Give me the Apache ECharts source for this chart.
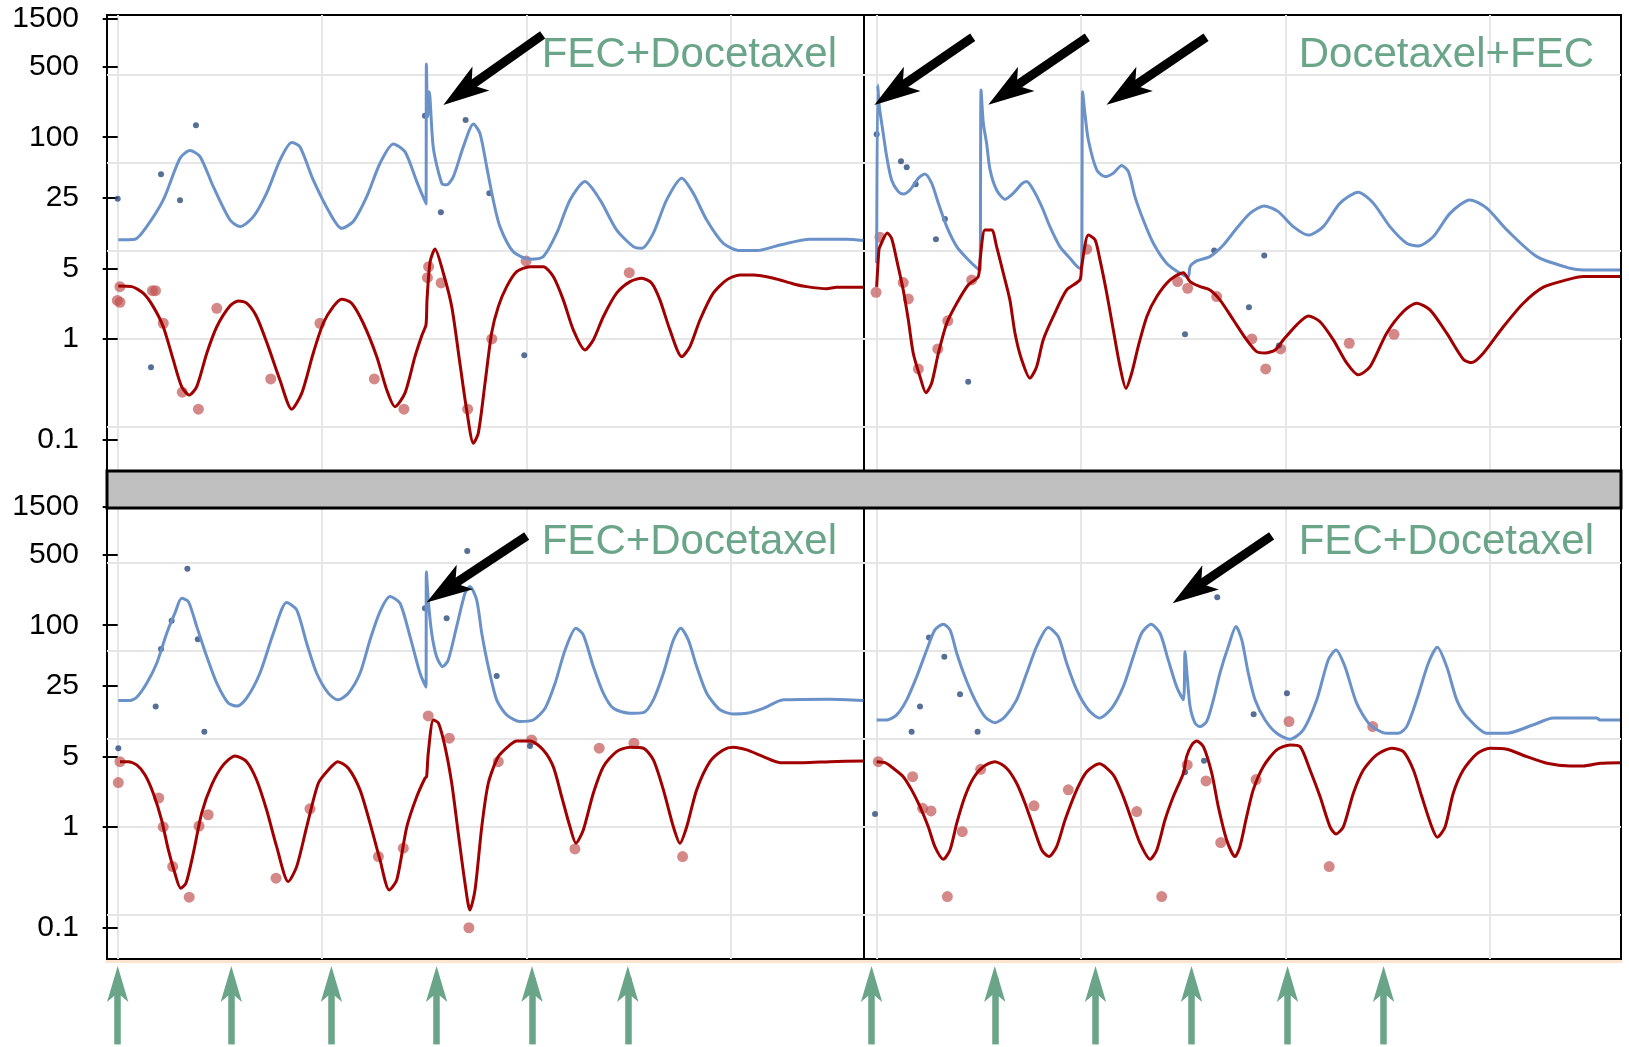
<!DOCTYPE html>
<html>
<head>
<meta charset="utf-8">
<script src="https://cdn.jsdelivr.net/npm/echarts@6/dist/echarts.min.js"></script>
<style>
  html, body { margin: 0; padding: 0; background: #fff; }
  #chart { width: 1629px; height: 1047px; }
</style>
</head>
<body>
<div id="chart"></div>
<script>
// y axis (log) labels and the light horizontal grid lines
var yTicks = [0.1, 1, 5, 25, 100, 500, 1500];
var yGrid = [0.134, 1, 7.46, 55.7, 415];
var xGrid = [0, 100, 200, 300];

// treatment days (green arrows under the panels)
var leftDoses = [0, 55.6, 104.6, 156.1, 202.8, 249.7];
var rightDoses = [-2.5, 57.8, 107.1, 154.1, 201.1, 248.1];

// ---- top left : FEC+Docetaxel ----
var tlBlue = [[0.3,9.6],[8.5,9.75],[14.2,13.0],[22.3,23.9],[30.5,61.9],[35.4,73.7],[40.3,64.3],[46.8,32.4],[55.0,15.1],[59.9,13.0],[66.4,16.3],[72.9,27.9],[79.5,59.6],[85.2,88.5],[89.2,80.7],[95.7,37.7],[103.9,17.6],[109.6,12.5],[115.3,14.6],[121.9,25.8],[128.4,55.2],[134.9,85.9],[140.6,72.0],[146.4,36.3],[150.9,21.8],[151.1,533],[151.7,160],[152.5,283],[154.5,78.3],[158.6,35.0],[161.0,33.7],[164.3,40.7],[169.2,80.7],[174.1,135.5],[177.3,109.6],[180.6,51.1],[183.8,23.9],[187.1,13.0],[193.6,7.34],[201.8,6.17],[208.3,6.55],[214.9,11.2],[221.4,23.9],[228.7,36.3],[236.1,23.9],[244.2,12.05],[252.4,8.23],[256.5,7.93],[262.2,11.2],[268.7,23.9],[276.1,39.2],[281.7,27.9],[288.3,15.1],[296.4,8.89],[304.6,7.51],[312.8,7.51],[324.2,8.55],[338.9,9.75],[356.8,9.75],[365,9.44]];
var tlRed = [[0.3,3.35],[6.9,3.30],[12.5,2.84],[17.4,2.09],[22.3,1.32],[27.2,0.619],[31.3,0.337],[35.0,0.278],[38.7,0.337],[43.6,0.721],[48.5,1.32],[55.0,2.13],[59.0,2.38],[63.1,2.26],[68.0,1.66],[73.7,0.839],[79.4,0.392],[85.2,0.201],[90.1,0.290],[95.7,0.721],[100.6,1.43],[105.5,2.09],[109.6,2.48],[114.5,2.26],[120.2,1.43],[126.8,0.667],[131.7,0.312],[135.7,0.213],[140.6,0.290],[145.5,0.667],[149.0,1.10],[150.9,1.38],[151.4,2.44],[152.9,5.80],[155.3,7.80],[159.4,4.48],[163.5,2.09],[167.5,0.574],[170.8,0.198],[174.1,0.0924],[176.5,0.116],[179.8,0.364],[183.0,1.14],[186.3,2.09],[190.4,3.30],[195.3,4.65],[201.8,5.21],[208.3,5.21],[213.2,4.15],[218.1,2.44],[223.0,1.23],[228.7,0.778],[232.8,0.977],[237.7,1.66],[244.2,2.84],[250.8,3.70],[256.5,4.00],[261.4,3.57],[265.4,2.44],[270.3,1.23],[276.1,0.667],[280.1,0.839],[285.0,1.54],[291.5,2.84],[298.1,3.85],[304.6,4.31],[311.1,4.31],[321.0,4.00],[330.8,3.51],[337.2,3.30],[347.0,3.15],[351.9,3.26],[365,3.26]];
var tlNavy = [[0,24.6],[21.2,43.0],[30.5,23.7],[38.3,131.6],[16.3,0.524],[150.4,163.8],[158.2,18.0],[170.3,148.5],[181.9,27.9],[199.0,0.689]];
var tlRedDots = [[1.1,3.30],[-0.2,2.41],[1.1,2.31],[17.0,3.01],[18.5,3.01],[22.3,1.43],[48.5,2.01],[31.6,0.296],[39.5,0.201],[74.9,0.401],[99.0,1.43],[125.6,0.401],[140.1,0.201],[152.2,5.21],[151.6,4.05],[158.3,3.59],[171.3,0.201],[183.1,1.0],[199.9,5.94],[250.4,4.54]];
var tlCallouts = [[208.0,1034,165.8,258]];

// ---- top right : Docetaxel+FEC ----
var trBlue = [[0,5.63],[0.5,330],[1.3,201],[3.2,109.6],[4.9,64.3],[7.3,37.7],[10.6,28.9],[13.0,27.4],[16.3,30.0],[20.4,39.2],[23.6,43.3],[26.9,35.0],[30.2,22.2],[34.3,13.0],[39.2,8.23],[44.1,6.31],[49.7,4.91],[50.6,4.83],[51.1,294],[52.2,137.7],[53.8,87.3],[55.5,47.4],[58.7,30.0],[62.8,24.3],[66.9,27.9],[71.0,34.4],[73.4,36.3],[76.7,30.0],[80.8,20.5],[84.8,13.0],[89.7,8.23],[94.6,6.31],[99.5,5.02],[100.3,5.02],[100.8,283],[102.0,166],[103.6,94.0],[107.7,47.4],[111.7,40.7],[115.8,44.0],[119.9,52.3],[123.2,45.6],[126.4,25.8],[130.5,15.1],[135.4,8.89],[141.9,5.63],[148.5,4.48],[152.5,4.15],[153.4,5.21],[156.6,5.94],[163.1,6.55],[169.7,8.55],[176.2,12.5],[182.7,17.6],[189.6,20.8],[196.4,18.4],[203.9,13.0],[211.3,10.7],[218.6,13.0],[226.8,22.2],[235.7,28.5],[243.1,22.2],[251.2,13.0],[259.4,8.89],[265.1,8.36],[272.4,10.3],[280.6,17.6],[290.4,23.9],[298.6,19.8],[308.4,12.05],[323.1,6.55],[339.4,5.02],[345.9,4.83],[363.8,4.83]];
var trRed = [[0,3.28],[1.1,7.63],[1.6,8.23],[5.2,11.2],[7.3,9.97],[9.8,6.07],[13.0,3.06],[15.5,1.54],[17.9,0.721],[21.2,0.423],[24.1,0.293],[26.9,0.364],[30.2,0.721],[34.3,1.43],[39.2,2.26],[44.8,3.43],[49.7,4.15],[50.6,6.07],[53.0,12.05],[56.3,12.05],[58.7,8.23],[62.0,4.48],[65.2,2.44],[67.7,1.14],[71.0,0.619],[75.0,0.408],[78.3,0.531],[81.5,0.977],[86.4,1.66],[93.0,3.06],[99.5,3.85],[100.3,5.21],[103.6,10.7],[106.9,9.59],[109.3,6.07],[112.6,2.84],[115.8,1.23],[119.1,0.531],[122.0,0.324],[124.8,0.457],[128.0,0.839],[132.2,1.66],[137.1,2.63],[143.6,3.85],[150.1,4.54],[153.4,3.70],[158.3,3.30],[163.1,3.06],[168.0,2.44],[174.6,1.54],[181.1,0.977],[186.0,0.748],[190.1,0.726],[195.0,0.778],[199.0,0.977],[205.6,1.38],[211.3,1.69],[217.0,1.48],[223.5,0.977],[230.1,0.574],[235.7,0.440],[241.5,0.531],[249.6,1.14],[257.8,1.87],[264.3,2.26],[270.8,1.94],[279.0,1.14],[287.1,0.629],[291.2,0.582],[296.9,0.721],[306.7,1.32],[316.5,2.26],[326.3,3.26],[337.7,3.85],[345.9,4.15],[363.8,4.15]];
var trNavy = [[0,107.2],[11.9,57.8],[14.7,50.4],[19.1,34.2],[33.4,15.5],[29.0,9.75],[44.8,0.377],[150.9,1.11],[165.2,7.51],[182.2,2.06],[189.7,6.70],[196.9,0.859]];
var trRedDots = [[-0.3,2.90],[1.6,10.2],[13.0,3.62],[15.5,2.49],[34.8,1.51],[29.9,0.796],[20.4,0.504],[46.5,3.85],[102.8,7.76],[147.3,3.70],[152.2,3.18],[166.4,2.63],[183.6,1.0],[190.4,0.504],[197.7,0.796],[231.3,0.906],[253.2,1.11]];
var trCallouts = [[47.0,982,5.3,257.5],[103.1,982,61.1,257.5],[161.2,982,119.0,257.5]];

// ---- bottom left : FEC+Docetaxel ----
var blBlue = [[0.3,17.9],[6.0,17.9],[9.3,19.3],[14.2,26.6],[19.1,42.0],[24.0,83.3],[28.0,131.6],[31.3,185.3],[34.6,171.4],[38.7,96.9],[43.6,48.8],[48.5,26.6],[54.1,16.9],[58.5,15.8],[63.1,18.9],[69.6,33.4],[76.2,83.3],[82.7,167.6],[87.6,141.9],[92.5,66.3],[97.4,33.4],[103.1,21.2],[107.7,18.2],[112.9,21.2],[118.6,33.4],[123.5,71.5],[128.4,136.5],[133.3,192.2],[138.2,165.3],[143.1,77.1],[148.0,33.4],[150.9,24.3],[151.1,340],[152.0,178.3],[153.7,83.3],[156.1,48.8],[159.1,38.9],[161.8,45.3],[165.9,96.9],[170.0,207.8],[172.4,241.5],[175.7,178.3],[178.2,83.3],[181.4,38.9],[185.5,18.2],[190.4,12.9],[196.9,11.1],[203.4,11.5],[209.2,15.0],[214.1,26.6],[219.0,56.9],[224.3,93.4],[227.9,80.2],[232.8,38.9],[237.7,21.2],[242.6,15.0],[250.8,13.4],[257.3,13.6],[262.2,18.2],[267.1,33.4],[272.0,71.5],[275.6,93.4],[279.3,71.5],[283.4,38.9],[288.3,21.2],[294.8,14.5],[301.3,13.2],[307.9,13.4],[316.0,15.0],[325.8,18.2],[348.6,18.5],[365,17.9]];
var blRed = [[1.1,4.44],[5.2,4.44],[9.3,4.12],[13.4,3.28],[17.4,2.16],[21.5,1.17],[24.8,0.591],[28.0,0.347],[30.8,0.247],[33.4,0.276],[37.0,0.548],[41.1,1.37],[46.0,2.61],[51.7,4.12],[57.4,5.06],[63.1,4.44],[68.0,2.92],[72.9,1.47],[77.8,0.638],[83.5,0.287],[87.6,0.404],[92.5,1.0],[98.2,2.71],[103.1,3.67],[107.7,4.44],[112.9,3.82],[118.6,2.33],[123.5,1.09],[128.4,0.471],[132.9,0.237],[136.6,0.298],[141.5,1.0],[146.4,2.00],[150.4,3.04],[151.2,3.15],[152.0,5.38],[154.5,11.5],[157.0,10.7],[160.2,6.26],[163.5,2.71],[166.7,0.866],[170.0,0.276],[172.4,0.150],[174.9,0.237],[178.2,1.0],[181.4,2.71],[186.3,4.98],[192.0,6.50],[195.3,7.13],[201.8,7.13],[208.3,5.80],[213.2,3.96],[217.3,2.00],[221.4,1.0],[224.3,0.689],[227.9,0.934],[232.8,2.16],[237.7,3.96],[244.2,5.58],[250.8,6.17],[257.3,6.03],[262.2,4.62],[267.1,2.33],[272.0,1.0],[275.2,0.689],[278.5,1.0],[283.4,2.33],[289.9,4.44],[296.4,5.80],[301.3,6.17],[307.9,5.80],[316.0,4.98],[324.2,4.34],[335.6,4.34],[348.6,4.44],[365,4.51]];
var blNavy = [[0.3,6.03],[18.6,15.6],[21.2,58.2],[26.4,111.1],[34.1,364],[39.2,72.7],[42.4,8.81],[150.4,147.5],[161.0,117.4],[171.1,546],[185.5,31.4],[201.8,6.36]];
var blRedDots = [[1.1,4.44],[0.3,2.75],[20.1,1.93],[22.3,1.0],[26.9,0.404],[35.0,0.201],[39.8,1.02],[44.3,1.32],[77.5,0.310],[94.1,1.51],[127.6,0.508],[139.8,0.615],[152.0,12.6],[162.3,7.58],[186.3,4.44],[171.9,0.100],[202.6,7.29],[235.7,6.03],[252.7,6.76],[223.8,0.605],[276.5,0.508]];
var blCallouts = [[200.2,769,157.7,205.9]];

// ---- bottom right : FEC+Docetaxel ----
var brBlue = [[0,11.5],[4.9,11.5],[9.8,12.9],[14.7,18.2],[19.6,30.9],[24.5,56.9],[28.5,89.9],[32.6,102.4],[35.9,89.9],[39.2,52.8],[43.2,30.9],[48.1,18.2],[53.0,12.4],[57.9,10.8],[62.8,12.4],[68.5,18.2],[73.4,33.4],[78.3,61.4],[84.0,94.7],[88.9,77.1],[93.0,42.0],[97.9,22.8],[103.6,14.5],[109.0,12.0],[115.0,15.0],[120.7,24.6],[125.6,48.8],[129.7,83.3],[134.3,102.4],[138.7,83.3],[142.7,45.3],[146.8,24.6],[150.1,18.2],[150.9,54.8],[152.0,30.9],[153.4,15.6],[155.8,10.7],[158.2,9.88],[161.5,11.1],[164.8,18.2],[168.0,33.4],[172.1,61.4],[175.9,96.9],[178.7,71.5],[181.9,33.4],[185.2,18.2],[190.1,11.5],[195.8,8.49],[202.3,7.41],[208.8,9.16],[215.4,18.2],[221.0,45.3],[224.8,56.9],[229.2,38.9],[234.9,16.9],[241.5,10.3],[249.6,8.49],[255.3,8.49],[259.4,9.88],[264.3,18.2],[270.0,42.0],[274.4,60.5],[279.0,38.9],[283.9,18.2],[288.8,12.4],[298.6,8.49],[308.4,8.49],[321.4,10.3],[331.2,12.0],[352.4,12.0],[354.0,11.5],[363.8,11.5]];
var brRed = [[0,4.44],[4.1,4.34],[8.1,3.82],[13.0,3.15],[17.1,2.33],[21.2,1.59],[25.3,1.0],[28.5,0.638],[32.6,0.478],[35.9,0.591],[39.2,1.09],[43.2,2.00],[47.3,3.04],[52.2,3.96],[57.9,4.44],[63.6,3.82],[68.5,2.71],[72.6,1.72],[76.7,1.0],[80.8,0.591],[84.3,0.508],[88.1,0.638],[92.2,1.17],[97.9,2.33],[102.8,3.53],[109.0,4.22],[115.8,3.28],[120.7,2.00],[124.8,1.17],[128.9,0.689],[133.8,0.478],[137.1,0.591],[141.1,1.17],[145.2,2.00],[150.1,3.41],[151.7,4.98],[154.2,6.50],[156.6,7.13],[159.9,6.26],[164.0,3.41],[167.2,1.59],[171.3,0.743],[175.4,0.508],[177.8,0.638],[181.1,1.27],[184.3,2.33],[189.2,3.96],[195.8,5.80],[202.3,6.50],[207.2,6.26],[212.1,3.67],[217.0,2.00],[221.9,1.0],[224.8,0.852],[228.4,1.0],[233.3,2.16],[238.2,3.67],[244.7,5.18],[252.1,6.03],[257.8,5.58],[262.7,3.67],[266.8,2.00],[271.7,1.0],[274.4,0.790],[278.2,1.0],[282.2,2.16],[287.1,3.67],[293.7,5.30],[300.2,6.03],[308.4,5.90],[318.2,4.98],[328.0,4.28],[339.4,4.03],[345.9,4.03],[354.0,4.28],[363.8,4.34]];
var brNavy = [[-0.8,1.34],[17.1,8.81],[21.2,15.6],[25.6,75.4],[33.1,48.8],[40.8,20.7],[49.4,8.81],[166.7,189.7],[150.9,3.49],[160.2,4.54],[184.5,13.1],[200.8,21.2]];
var brRedDots = [[0.8,4.44],[17.6,3.15],[22.5,1.53],[26.6,1.44],[41.9,0.898],[34.6,0.204],[50.9,3.73],[77.0,1.62],[93.8,2.33],[127.3,1.42],[139.5,0.204],[152.0,4.12],[161.2,2.86],[168.4,0.699],[185.7,2.95],[201.8,11.1],[221.5,0.404],[242.8,9.88]];
var brCallouts = [[193.3,769,151.3,203]];

var GREEN = '#6aa589';
var FONT = '"Liberation Sans", Arial, Helvetica, sans-serif';

var panels = [
  { title: 'FEC+Docetaxel', blue: tlBlue, red: tlRed, navy: tlNavy, redDots: tlRedDots, callouts: tlCallouts, left: 107, top: 15, xMin: -5.24, xMax: 365.3, labels: true },
  { title: 'Docetaxel+FEC', blue: trBlue, red: trRed, navy: trNavy, redDots: trRedDots, callouts: trCallouts, left: 864, top: 15, xMin: -6.2, xMax: 364.3, labels: false },
  { title: 'FEC+Docetaxel', blue: blBlue, red: blRed, navy: blNavy, redDots: blRedDots, callouts: blCallouts, left: 107, top: 503, xMin: -5.24, xMax: 365.3, labels: true },
  { title: 'FEC+Docetaxel', blue: brBlue, red: brRed, navy: brNavy, redDots: brRedDots, callouts: brCallouts, left: 864, top: 503, xMin: -6.2, xMax: 364.3, labels: false }
];

var grid = [], xAxis = [], yAxis = [], series = [], graphic = [];

panels.forEach(function (p, i) {
  grid.push({ left: p.left, top: p.top, width: 757, height: 456, show: true, borderColor: '#000', borderWidth: 2 });
  xAxis.push({
    type: 'value', gridIndex: i, min: p.xMin, max: p.xMax,
    axisLine: { show: false },
    axisTick: { show: false, customValues: xGrid },
    axisLabel: { show: false, customValues: xGrid },
    splitLine: { show: true, lineStyle: { color: '#e6e6e6', width: 2 } }
  });
  // axis with the tick labels
  yAxis.push({
    type: 'log', logBase: 10, gridIndex: i, min: 0.049, max: 1630,
    axisLine: { show: false },
    axisTick: { show: p.labels, inside: false, length: 15, customValues: yTicks, lineStyle: { color: '#000', width: 2 } },
    axisLabel: {
      show: p.labels, customValues: yTicks, margin: 28, fontSize: 30, color: '#000', fontFamily: FONT,
      formatter: function (v) { return String(v); }
    },
    splitLine: { show: false }
  });
  // axis that only carries the horizontal grid lines
  yAxis.push({
    type: 'log', logBase: 10, gridIndex: i, min: 0.049, max: 1630,
    axisLine: { show: false },
    axisTick: { show: false, customValues: yGrid },
    axisLabel: { show: false, customValues: yGrid },
    splitLine: { show: true, lineStyle: { color: '#e6e6e6', width: 2 } }
  });

  series.push({
    type: 'scatter', xAxisIndex: i, yAxisIndex: 2 * i, data: p.redDots,
    symbolSize: 11, itemStyle: { color: 'rgba(194,80,80,0.85)' }, silent: true
  });
  series.push({
    type: 'line', xAxisIndex: i, yAxisIndex: 2 * i, data: p.blue,
    showSymbol: false, smooth: 0.25, lineStyle: { color: '#6a92c9', width: 3 }, silent: true
  });
  series.push({
    type: 'line', xAxisIndex: i, yAxisIndex: 2 * i, data: p.red,
    showSymbol: false, smooth: 0.25, lineStyle: { color: '#a00000', width: 3 }, silent: true
  });
  series.push({
    type: 'scatter', xAxisIndex: i, yAxisIndex: 2 * i, data: p.navy,
    symbolSize: 6, itemStyle: { color: '#2b4b7d' }, silent: true,
    markLine: {
      silent: true, animation: false,
      symbol: ['none', 'arrow'],
      label: { show: false },
      lineStyle: { color: '#000', width: 9, type: 'solid', opacity: 1 },
      emphasis: { disabled: true },
      data: p.callouts.map(function (c) {
        return [
          { coord: [c[0], c[1]], symbol: 'none' },
          { coord: [c[2], c[3]], symbol: 'arrow', symbolSize: [22, 46], symbolOffset: [0, -16] }
        ];
      })
    }
  });

  graphic.push({
    type: 'text', z: 100,
    x: p.left === 107 ? 837 : 1594,
    y: p.top === 15 ? 55.5 : 542.5,
    style: { text: p.title, fill: GREEN, fontSize: 42, fontFamily: FONT, align: 'right', verticalAlign: 'middle' }
  });
});

// strip with the treatment arrows below the bottom panels
[leftDoses, rightDoses].forEach(function (doses, k) {
  var gi = 4 + k;
  grid.push({ left: k === 0 ? 107 : 864, top: 961, width: 757, height: 86 });
  xAxis.push({
    type: 'value', gridIndex: gi, position: 'top',
    min: panels[2 + k].xMin, max: panels[2 + k].xMax,
    axisLine: { show: true, onZero: false, lineStyle: { color: '#fce4ce', width: 3 } },
    axisTick: { show: false }, axisLabel: { show: false }, splitLine: { show: false }
  });
  yAxis.push({ type: 'value', gridIndex: gi, min: 0, max: 1, show: false });
  series.push({
    type: 'scatter', xAxisIndex: gi, yAxisIndex: 8 + k, symbolSize: 0,
    data: doses.map(function (d) { return [d, 0.03]; }), silent: true,
    markLine: {
      silent: true, animation: false,
      symbol: ['none', 'arrow'],
      label: { show: false },
      lineStyle: { color: GREEN, width: 6.5, type: 'solid', opacity: 1 },
      emphasis: { disabled: true },
      data: doses.map(function (d) {
        return [
          { coord: [d, 0.03], symbol: 'none' },
          { coord: [d, 0.802], symbol: 'arrow', symbolSize: [16, 36], symbolOffset: [0, -12] }
        ];
      })
    }
  });
});

// grey band between the two rows
graphic.push({
  type: 'rect', z: 100,
  shape: { x: 107, y: 471, width: 1514, height: 37 },
  style: { fill: '#c0c0c0', stroke: '#000', lineWidth: 3 }
});

var chart = echarts.init(document.getElementById('chart'));
chart.setOption({
  animation: false,
  backgroundColor: '#fff',
  grid: grid,
  xAxis: xAxis,
  yAxis: yAxis,
  series: series,
  graphic: graphic
});
</script>
</body>
</html>
